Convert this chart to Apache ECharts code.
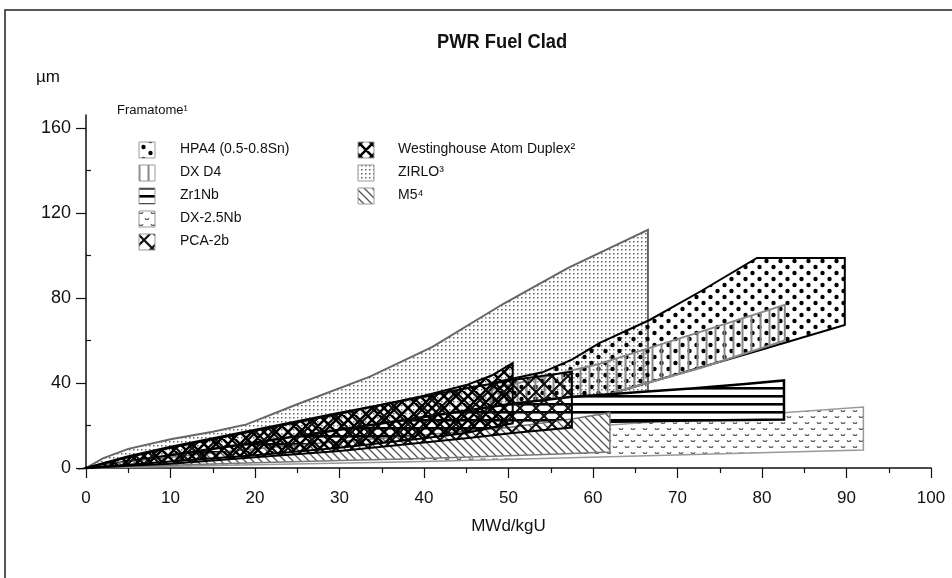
<!DOCTYPE html>
<html><head><meta charset="utf-8">
<script src="https://cdn.jsdelivr.net/npm/echarts@6/dist/echarts.min.js"></script>
<style>html,body{margin:0;padding:0;background:#fff}#c{width:952px;height:578px}</style>
</head><body><div id="c"></div>
<script>
// ---- axis ticks ----
const yMajorTicks = [0, 40, 80, 120, 160];
const yMinorTicks = [20, 60, 100, 140];

// ---- bands: x positions, upper and lower oxide thickness (µm) ----
const zirloX     = [0, 2, 5, 10, 15, 19, 25, 33.6, 41, 49.3, 57, 66.5];
const zirloUpper = [0, 4.5, 9, 13.5, 17, 20.5, 30, 43, 57, 77, 94, 112];
const zirloLower = [0, 0.5, 1.5, 3, 4.5, 6, 9, 14, 19, 24, 28, 32];

const hpa4X     = [48, 54, 57.5, 60.8, 66.7, 72.7, 79.4, 89.8];
const hpa4Upper = [40, 45, 51, 58.8, 69.6, 83, 98.8, 98.8];
const hpa4Lower = [22, 27, 30.5, 33.4, 40.3, 47.3, 55, 67.3];

const dxd4X     = [48, 56, 60.8, 66.7, 72.7, 82.7];
const dxd4Upper = [37, 44.5, 49, 56.5, 64, 76.7];
const dxd4Lower = [22, 29, 33.4, 40.3, 47, 60];

const dx25X     = [0, 20, 40, 62, 92];
const dx25Upper = [0, 4, 8, 20.2, 28.7];
const dx25Lower = [0, 1.5, 3, 5.3, 8.5];

const zr1nbX     = [0, 10, 20, 30, 40, 50, 57.5, 60.8, 66, 72, 78, 82.6];
const zr1nbUpper = [0, 6, 12, 18, 24, 30, 33.5, 34.3, 35.8, 37.5, 39.5, 41.2];
const zr1nbLower = [0, 3, 7, 10.5, 14, 18, 21, 21.6, 22, 22.3, 22.6, 22.8];

const m5X     = [0, 5, 10, 20, 30, 40, 50, 57.5, 62];
const m5Upper = [0, 3, 5, 9, 12.5, 15.5, 19, 23, 26];
const m5Lower = [0, 0.7, 1.3, 2.5, 3.5, 4.5, 5.8, 6.8, 7.5];

const pcaX     = [0, 5, 10, 20, 30, 40, 45, 50.5, 57.5];
const pcaUpper = [0, 5.5, 10, 18, 26, 33.5, 37.5, 41.4, 45.2];
const pcaLower = [0, 1, 2, 5, 8, 12, 14, 16.5, 19];

const wadX     = [0, 5, 10, 20, 30, 40, 45, 48, 50.5];
const wadUpper = [0, 5, 9.5, 17.5, 25.5, 34, 39, 43.5, 49.4];
const wadLower = [0, 1.5, 3, 6, 9.5, 14, 16.5, 19, 21];

// ---- legend ----
const legendCol1 = ['HPA4 (0.5-0.8Sn)', 'DX D4', 'Zr1Nb', 'DX-2.5Nb', 'PCA-2b'];
const legendCol2 = ['Westinghouse Atom Duplex\u00B2', 'ZIRLO\u00B3', 'M5\u2074'];

// ---- patterns ----
function pat(w, h, bg, draw) {
  const c = document.createElement('canvas');
  c.width = w; c.height = h;
  const g = c.getContext('2d');
  if (bg) { g.fillStyle = bg; g.fillRect(0, 0, w, h); }
  draw(g);
  return { image: c, repeat: 'repeat' };
}
function cross(g, n) {
  g.beginPath();
  g.moveTo(0, 0); g.lineTo(n, n); g.moveTo(n, 0); g.lineTo(0, n);
  g.moveTo(-2, n - 2); g.lineTo(2, n + 2); g.moveTo(n - 2, -2); g.lineTo(n + 2, 2);
  g.moveTo(-2, 2); g.lineTo(2, -2); g.moveTo(n - 2, n + 2); g.lineTo(n + 2, n - 2);
  g.stroke();
}
const P = {
  zirlo: pat(4, 4, null, g => { g.fillStyle = '#666'; g.fillRect(1, 1, 1.5, 1.5); }),
  hpa4: pat(14, 12, null, g => { g.fillStyle = '#000'; g.beginPath(); g.arc(3.5, 3, 2.2, 0, 7); g.fill(); g.beginPath(); g.arc(10.5, 9, 2.2, 0, 7); g.fill(); }),
  dxd4: pat(9, 8, null, g => { g.fillStyle = '#888'; g.fillRect(3.5, 0, 2, 8); }),
  zr1nb: pat(8, 8, '#fff', g => { g.fillStyle = '#000'; g.fillRect(0, 3, 8, 2.6); }),
  dx25: pat(12, 12, '#fff', g => {
    g.strokeStyle = '#555'; g.lineWidth = 1;
    const w = (x, y) => { g.beginPath(); g.moveTo(x, y); g.lineTo(x + 1, y + 2); g.lineTo(x + 2, y + 0.7); g.lineTo(x + 3, y + 2); g.lineTo(x + 4, y); g.stroke(); };
    w(1, 2); w(7, 8);
  }),
  m5: pat(8, 8, '#fff', g => {
    g.strokeStyle = '#555'; g.lineWidth = 1.3; g.beginPath();
    g.moveTo(0, 0); g.lineTo(8, 8); g.moveTo(-1, 7); g.lineTo(1, 9); g.moveTo(7, -1); g.lineTo(9, 1); g.stroke();
  }),
  pca: pat(16, 16, null, g => { g.strokeStyle = '#111'; g.lineWidth = 2.2; cross(g, 16); }),
  wad: pat(12, 12, null, g => { g.strokeStyle = '#000'; g.lineWidth = 2.6; cross(g, 12); })
};

function band(name, xs, up, lo, fill, stroke, lw, z) {
  return {
    type: 'custom', name: name, coordinateSystem: 'cartesian2d',
    xAxisIndex: 0, yAxisIndex: 0, z: z, silent: true, clip: false,
    data: xs.map((x, i) => [x, up[i], lo[i]]),
    encode: { x: 0, y: [1, 2] },
    renderItem: function (params, api) {
      if (params.dataIndex !== 0) return null;
      const pts = [];
      for (let i = 0; i < xs.length; i++) pts.push(api.coord([xs[i], up[i]]));
      for (let i = xs.length - 1; i >= 0; i--) pts.push(api.coord([xs[i], lo[i]]));
      return { type: 'polygon', shape: { points: pts }, style: { fill: fill, stroke: stroke, lineWidth: lw, lineJoin: 'miter' } };
    }
  };
}

const FONT = "'Liberation Sans', Arial, sans-serif";

const chart = echarts.init(document.getElementById('c'), null, { renderer: 'canvas' });

const graphics = [
  { type: 'rect', shape: { x: 5, y: 10, width: 1000, height: 700 }, style: { fill: null, stroke: '#222', lineWidth: 1.5 }, silent: true },
  { type: 'text', x: 437, y: 32, scaleX: 0.915, style: { text: 'PWR Fuel Clad', font: 'bold 20px ' + FONT, fill: '#111', verticalAlign: 'top' } },
  { type: 'text', left: 36, top: 69, style: { text: '\u00B5m', font: '17px ' + FONT, fill: '#111' } },
  { type: 'text', left: 117, top: 104, style: { text: 'Framatome\u00B9', font: '13px ' + FONT, fill: '#111' } }
];
const col1Pats = [P.hpa4, P.dxd4, P.zr1nb, P.dx25, P.pca];
const col2Pats = [P.wad, P.zirlo, P.m5];
legendCol1.forEach((t, i) => {
  const cy = 150 + i * 23;
  graphics.push({ type: 'rect', shape: { x: 139, y: cy - 8, width: 16, height: 16 }, style: { fill: col1Pats[i], stroke: '#999', lineWidth: 1 } });
  graphics.push({ type: 'text', left: 180, top: cy - 8, style: { text: t, font: '14px ' + FONT, fill: '#111' } });
});
legendCol2.forEach((t, i) => {
  const cy = 150 + i * 23;
  graphics.push({ type: 'rect', shape: { x: 358, y: cy - 8, width: 16, height: 16 }, style: { fill: col2Pats[i], stroke: '#999', lineWidth: 1 } });
  graphics.push({ type: 'text', left: 398, top: cy - 8, style: { text: t, font: '14px ' + FONT, fill: '#111' } });
});

chart.setOption({
  backgroundColor: '#fff',
  animation: false,
  grid: { left: 86, right: 21, top: 115, bottom: 110 },
  xAxis: {
    type: 'value', min: 0, max: 100, interval: 10,
    axisLine: { lineStyle: { color: '#111', width: 1.5 } },
    axisTick: { length: 10, lineStyle: { color: '#111', width: 1.2 } },
    minorTick: { show: true, splitNumber: 2, length: 5, lineStyle: { color: '#111', width: 1.2 } },
    splitLine: { show: false },
    axisLabel: { margin: 22, fontSize: 17, color: '#111', fontFamily: FONT },
    name: 'MWd/kgU', nameLocation: 'middle', nameGap: 50,
    nameTextStyle: { fontSize: 17, color: '#111', fontFamily: FONT }
  },
  yAxis: [{
    type: 'value', min: 0, max: 166, position: 'left',
    axisLine: { show: true, lineStyle: { color: '#111', width: 1.5 } },
    axisTick: { show: true, length: 10, customValues: yMajorTicks, lineStyle: { color: '#111', width: 1.2 } },
    axisLabel: { margin: 15, fontSize: 18, color: '#111', fontFamily: FONT, customValues: yMajorTicks },
    splitLine: { show: false }
  }, {
    type: 'value', min: 0, max: 166, position: 'left',
    axisLine: { show: false },
    axisTick: { show: true, inside: true, length: 5, customValues: yMinorTicks, lineStyle: { color: '#111', width: 1.2 } },
    axisLabel: { show: false },
    splitLine: { show: false }
  }],
  graphic: graphics,
  series: [
    band('ZIRLO', zirloX, zirloUpper, zirloLower, P.zirlo, '#666', 2, 1),
    band('HPA4', hpa4X, hpa4Upper, hpa4Lower, P.hpa4, '#000', 2, 2),
    band('DX D4', dxd4X, dxd4Upper, dxd4Lower, P.dxd4, '#888', 2, 3),
    band('DX-2.5Nb', dx25X, dx25Upper, dx25Lower, P.dx25, '#999', 1.5, 4),
    band('Zr1Nb', zr1nbX, zr1nbUpper, zr1nbLower, P.zr1nb, '#000', 2.5, 5),
    band('M5', m5X, m5Upper, m5Lower, P.m5, '#777', 1.5, 6),
    band('PCA-2b', pcaX, pcaUpper, pcaLower, P.pca, '#000', 2, 7),
    band('Westinghouse Atom Duplex', wadX, wadUpper, wadLower, P.wad, '#000', 2, 8)
  ]
});
</script>
</body></html>
